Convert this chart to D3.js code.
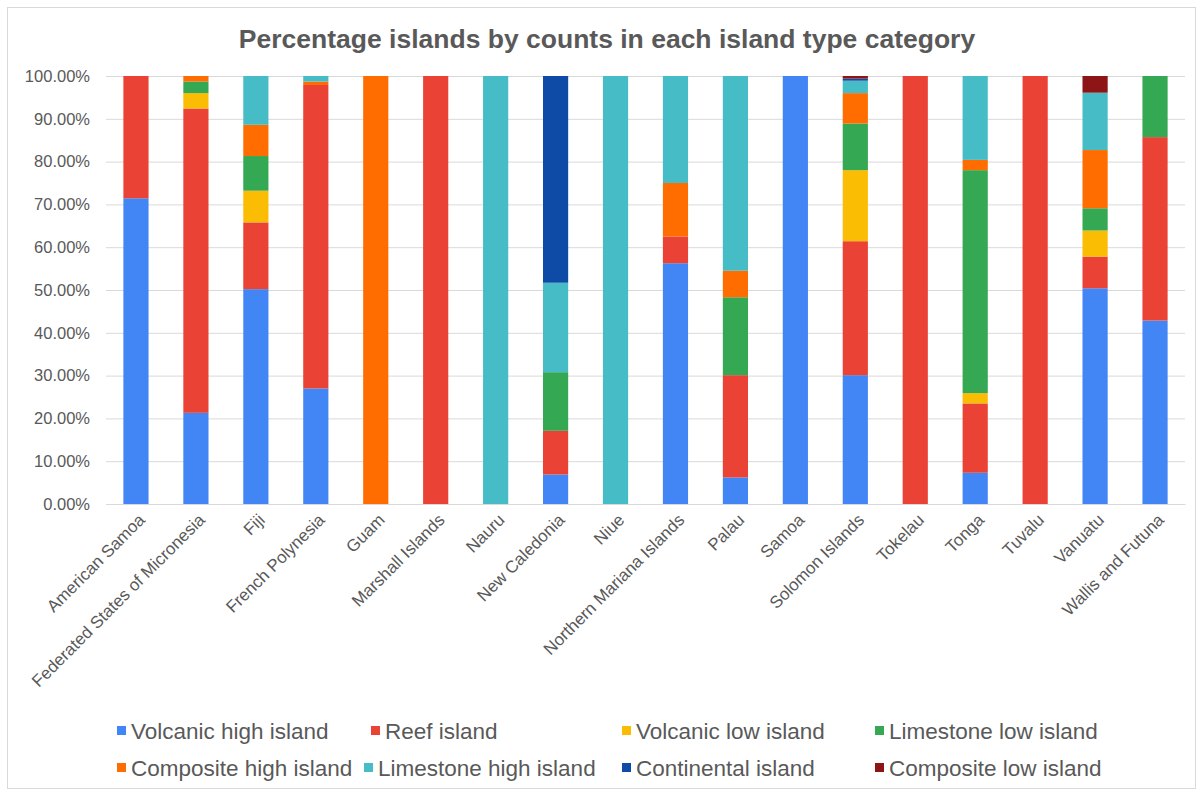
<!DOCTYPE html>
<html>
<head>
<meta charset="utf-8">
<script src="https://cdn.jsdelivr.net/npm/d3@7"></script>
<style>
  html, body { margin: 0; padding: 0; background: #ffffff; }
  svg { display: block; font-family: "Liberation Sans", Arial, sans-serif; }
</style>
</head>
<body>
<svg id="chart" width="1202" height="791"></svg>
<script>
// Island groups along the x axis
const categories = [
  "American Samoa", "Federated States of Micronesia", "Fiji", "French Polynesia",
  "Guam", "Marshall Islands", "Nauru", "New Caledonia", "Niue",
  "Northern Mariana Islands", "Palau", "Samoa", "Solomon Islands", "Tokelau",
  "Tonga", "Tuvalu", "Vanuatu", "Wallis and Futuna"
];

// Share of islands (%) per island type, one value per category
const volcanicHigh  = [71.43, 21.3, 50.2, 27.0, 0, 0, 0, 6.9, 0, 56.25, 6.2, 100, 30.1, 0, 7.3, 0, 50.4, 42.86];
const reef          = [28.57, 71.1, 15.6, 70.9, 0, 100, 0, 10.2, 0, 6.25, 23.9, 0, 31.3, 100, 16.2, 100, 7.4, 42.86];
const volcanicLow   = [0, 3.6, 7.4, 0, 0, 0, 0, 0, 0, 0, 0, 0, 16.6, 0, 2.4, 0, 6.1, 0];
const limestoneLow  = [0, 2.7, 8.1, 0, 0, 0, 0, 13.7, 0, 0, 18.2, 0, 10.9, 0, 52.1, 0, 5.2, 14.28];
const compositeHigh = [0, 1.3, 7.3, 0.8, 100, 0, 0, 0, 0, 12.5, 6.2, 0, 7.1, 0, 2.4, 0, 13.6, 0];
const limestoneHigh = [0, 0, 11.4, 1.3, 0, 0, 100, 20.9, 100, 25, 45.5, 0, 2.9, 0, 19.6, 0, 13.4, 0];
const continental   = [0, 0, 0, 0, 0, 0, 0, 48.3, 0, 0, 0, 0, 0.5, 0, 0, 0, 0, 0];
const compositeLow  = [0, 0, 0, 0, 0, 0, 0, 0, 0, 0, 0, 0, 0.6, 0, 0, 0, 3.9, 0];

const seriesNames = [
  "Volcanic high island", "Reef island", "Volcanic low island", "Limestone low island",
  "Composite high island", "Limestone high island", "Continental island", "Composite low island"
];
const seriesValues = [volcanicHigh, reef, volcanicLow, limestoneLow, compositeHigh, limestoneHigh, continental, compositeLow];
const seriesColors = ["#4285F4", "#EA4335", "#FBBC04", "#34A853", "#FF6D01", "#46BDC6", "#0D4BA6", "#8E1515"];

const yTicks = [0, 10, 20, 30, 40, 50, 60, 70, 80, 90, 100];

const titleText = "Percentage islands by counts in each island type category";

// Build a row table for d3.stack
const rows = categories.map((c, i) => {
  const r = { category: c };
  seriesNames.forEach((s, k) => { r[s] = seriesValues[k][i]; });
  return r;
});

const svg = d3.select("#chart");
const textColor = "#595959";

// Outer chart frame
svg.append("rect")
  .attr("x", 7.5).attr("y", 7.5)
  .attr("width", 1188).attr("height", 781)
  .attr("fill", "#ffffff")
  .attr("stroke", "#d9d9d9").attr("stroke-width", 1);

const plot = { left: 106, right: 1185, top: 76, bottom: 504 };

const x = d3.scaleBand()
  .domain(categories)
  .range([plot.left, plot.right])
  .paddingInner(0.58)
  .paddingOuter(0.29);

const y = d3.scaleLinear()
  .domain([0, 100])
  .range([plot.bottom, plot.top]);

const color = d3.scaleOrdinal().domain(seriesNames).range(seriesColors);

// Title
svg.append("text")
  .attr("x", 607).attr("y", 48)
  .attr("text-anchor", "middle")
  .attr("font-size", 26.5)
  .attr("font-weight", "bold")
  .attr("fill", textColor)
  .text(titleText);

// Horizontal gridlines and y axis labels
const yAxis = d3.axisLeft(y)
  .tickValues(yTicks)
  .tickSize(-(plot.right - plot.left))
  .tickPadding(16)
  .tickFormat(d => d.toFixed(2) + "%");

const yg = svg.append("g")
  .attr("transform", `translate(${plot.left},0)`)
  .call(yAxis);
yg.select(".domain").remove();
yg.selectAll(".tick line").attr("stroke", "#d9d9d9").attr("stroke-width", 1);
yg.selectAll(".tick text")
  .attr("fill", textColor)
  .attr("font-size", 16.5)
  .attr("font-family", "Liberation Sans, Arial, sans-serif");

// Stacked bars
const stacked = d3.stack().keys(seriesNames)(rows);

svg.append("g")
  .selectAll("g")
  .data(stacked)
  .join("g")
  .attr("fill", d => color(d.key))
  .selectAll("rect")
  .data(d => d)
  .join("rect")
  .attr("x", d => x(d.data.category))
  .attr("width", x.bandwidth())
  .attr("y", d => y(d[1]))
  .attr("height", d => Math.max(0, y(d[0]) - y(d[1])));

// X axis with rotated category labels
const xAxis = d3.axisBottom(x).tickSize(0).tickPadding(0);
const xg = svg.append("g")
  .attr("transform", `translate(0,${plot.bottom})`)
  .call(xAxis);
xg.select(".domain").attr("stroke", "#d9d9d9");
xg.selectAll(".tick text")
  .attr("fill", textColor)
  .attr("font-size", 17)
  .attr("font-family", "Liberation Sans, Arial, sans-serif")
  .attr("text-anchor", "end")
  .attr("dy", null)
  .attr("transform", "translate(10,17) rotate(-45)");

// Legend, two rows of four
const legendPos = [
  [117, 731], [371, 731], [622, 731], [875, 731],
  [117, 768], [364, 768], [622, 768], [875, 768]
];
const legend = svg.append("g")
  .selectAll("g")
  .data(seriesNames)
  .join("g")
  .attr("transform", (d, i) => `translate(${legendPos[i][0]},${legendPos[i][1]})`);
legend.append("rect")
  .attr("x", 0).attr("y", -5)
  .attr("width", 9).attr("height", 9)
  .attr("fill", d => color(d));
legend.append("text")
  .attr("x", 14).attr("y", 0)
  .attr("dy", "0.35em")
  .attr("font-size", 22.5)
  .attr("fill", textColor)
  .text(d => d);
</script>
</body>
</html>
